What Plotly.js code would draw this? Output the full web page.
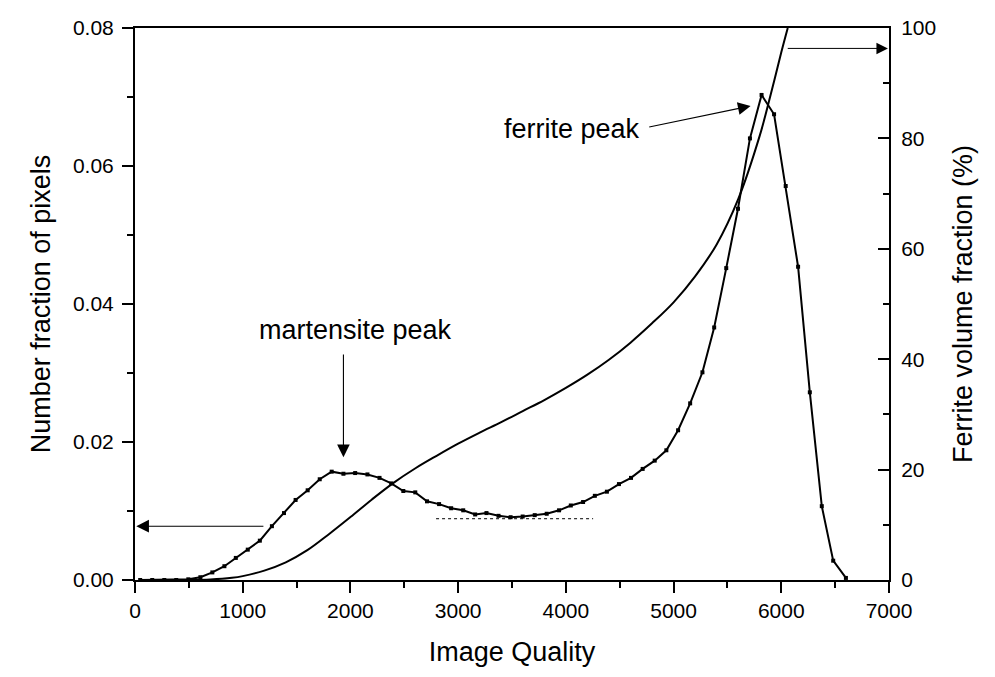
<!DOCTYPE html>
<html>
<head>
<meta charset="utf-8">
<script src="https://cdn.plot.ly/plotly-3.0.1.min.js"></script>
<style>
  html, body { margin: 0; padding: 0; background: #fff; }
  #chart { width: 995px; height: 677px; }
</style>
</head>
<body>
<div id="chart"></div>
<script>
// Image-quality histogram (number fraction of pixels per IQ bin)
const iqBins = [48, 160, 272, 383, 495, 607, 718, 830, 936, 1047, 1159, 1271, 1383, 1491, 1603,
  1715, 1826, 1935, 2044, 2158, 2270, 2379, 2491, 2602, 2711, 2823, 2935, 3047, 3158, 3263,
  3375, 3487, 3599, 3711, 3822, 3937, 4046, 4160, 4269, 4381, 4493, 4605, 4713, 4825, 4933,
  5042, 5154, 5268, 5377, 5489, 5598, 5709, 5817, 5933, 6041, 6156, 6265, 6376, 6482, 6600];
const pixelFraction = [0.0000, 0.0000, 0.0000, 0.0000, 0.0001, 0.0004, 0.0011, 0.0020, 0.0032,
  0.0044, 0.0057, 0.0078, 0.0097, 0.0116, 0.0130, 0.0146, 0.0157, 0.0154, 0.0155, 0.0153,
  0.0148, 0.0140, 0.0129, 0.0127, 0.0114, 0.0110, 0.0104, 0.0101, 0.0095, 0.0097, 0.0093,
  0.0091, 0.0092, 0.0094, 0.0096, 0.0101, 0.0108, 0.0113, 0.0122, 0.0128, 0.0139, 0.0148,
  0.0161, 0.0173, 0.0188, 0.0217, 0.0256, 0.0301, 0.0366, 0.0452, 0.0538, 0.0640, 0.0703,
  0.0675, 0.0571, 0.0454, 0.0272, 0.0107, 0.0028, 0.0003];

// Ferrite volume fraction versus IQ threshold
const iqThreshold = [500, 700, 900, 1000, 1200, 1400, 1600, 1800, 2000, 2200, 2400, 2600, 2800,
  3000, 3200, 3400, 3600, 3800, 4000, 4200, 4400, 4600, 4800, 5000, 5200, 5400, 5600, 5800,
  5900, 6000, 6060];
const ferriteFraction = [0, 0.1, 0.4, 0.7, 1.7, 3.2, 5.4, 8.3, 11.4, 14.6, 17.6, 20.2, 22.5,
  24.7, 26.7, 28.6, 30.6, 32.6, 34.8, 37.2, 39.9, 43.0, 46.5, 50.3, 55.0, 60.8, 69.0, 80.5,
  87.8, 95.6, 100];

// Dotted reference level under the martensite/ferrite valley
const valleyX = [2795, 4253];
const valleyLevel = [0.00888, 0.00888];

const FONT = 'Liberation Sans, Arial, Helvetica, sans-serif';

const traces = [
  {
    x: iqBins, y: pixelFraction, type: 'scatter', mode: 'lines+markers',
    line: { color: '#000', width: 2 },
    marker: { symbol: 'square', size: 4, color: '#000' },
    hoverinfo: 'x+y'
  },
  {
    x: iqThreshold, y: ferriteFraction, type: 'scatter', mode: 'lines', yaxis: 'y2',
    line: { color: '#000', width: 2, shape: 'spline', smoothing: 1 },
    hoverinfo: 'x+y'
  },
  {
    x: valleyX, y: valleyLevel, type: 'scatter', mode: 'lines',
    line: { color: '#000', width: 1, dash: 'dot' },
    hoverinfo: 'skip'
  }
];

const arrowBase = { showarrow: true, text: '', arrowcolor: '#000', arrowhead: 2,
  arrowsize: 2.3, arrowwidth: 1.1, axref: 'x', standoff: 0, startstandoff: 0 };

const layout = {
  width: 995, height: 677,
  margin: { l: 135, r: 106, t: 28, b: 97 },
  paper_bgcolor: '#fff', plot_bgcolor: '#fff',
  showlegend: false,
  font: { family: FONT, color: '#000', size: 21 },
  xaxis: {
    range: [0, 7000], dtick: 1000, tick0: 0,
    showline: true, linecolor: '#000', linewidth: 2, mirror: true,
    ticks: 'outside', ticklen: 11, tickwidth: 2, tickcolor: '#000',
    minor: { dtick: 500, ticks: 'outside', ticklen: 6, tickwidth: 2, tickcolor: '#000', showgrid: false },
    showgrid: false, zeroline: false,
    tickfont: { size: 21 },
    title: { text: 'Image Quality', font: { size: 27 }, standoff: 21 }
  },
  yaxis: {
    range: [0, 0.08], dtick: 0.02, tickformat: '.2f',
    showline: true, linecolor: '#000', linewidth: 2,
    ticks: 'outside', ticklen: 11, tickwidth: 2, tickcolor: '#000',
    minor: { dtick: 0.01, ticks: 'outside', ticklen: 6, tickwidth: 2, tickcolor: '#000', showgrid: false },
    showgrid: false, zeroline: false,
    tickfont: { size: 21 }, ticklabelstandoff: 4,
    title: { text: 'Number fraction of pixels', font: { size: 27 }, standoff: 14 }
  },
  yaxis2: {
    range: [0, 100], dtick: 20, overlaying: 'y', side: 'right',
    showline: true, linecolor: '#000', linewidth: 2,
    ticks: 'inside', ticklen: 11, tickwidth: 2, tickcolor: '#000',
    minor: { dtick: 10, ticks: 'inside', ticklen: 6, tickwidth: 2, tickcolor: '#000', showgrid: false },
    showgrid: false, zeroline: false,
    tickfont: { size: 21 }, ticklabelstandoff: 6,
    title: { text: 'Ferrite volume fraction (%)', font: { size: 27 }, standoff: 18 }
  },
  annotations: [
    { x: 2048, y: 0.0362, xref: 'x', yref: 'y', text: 'martensite peak', showarrow: false,
      xanchor: 'center', yanchor: 'middle', font: { size: 27 } },
    { x: 4060, y: 0.0653, xref: 'x', yref: 'y', text: 'ferrite peak', showarrow: false,
      xanchor: 'center', yanchor: 'middle', font: { size: 27 } },
    Object.assign({}, arrowBase, { x: 1935, y: 0.0178, xref: 'x', yref: 'y',
      ax: 1935, ay: 0.0329, ayref: 'y' }),
    Object.assign({}, arrowBase, { x: 5715, y: 0.0687, xref: 'x', yref: 'y',
      ax: 4760, ay: 0.0656, ayref: 'y' }),
    Object.assign({}, arrowBase, { x: 12, y: 0.0078, xref: 'x', yref: 'y',
      ax: 1206, ay: 0.0078, ayref: 'y' }),
    Object.assign({}, arrowBase, { x: 6990, y: 96.3, xref: 'x', yref: 'y2',
      ax: 6046, ay: 96.3, ayref: 'y2', arrowwidth: 1 })
  ]
};

Plotly.newPlot('chart', traces, layout, { displayModeBar: false, staticPlot: true });
</script>
</body>
</html>
